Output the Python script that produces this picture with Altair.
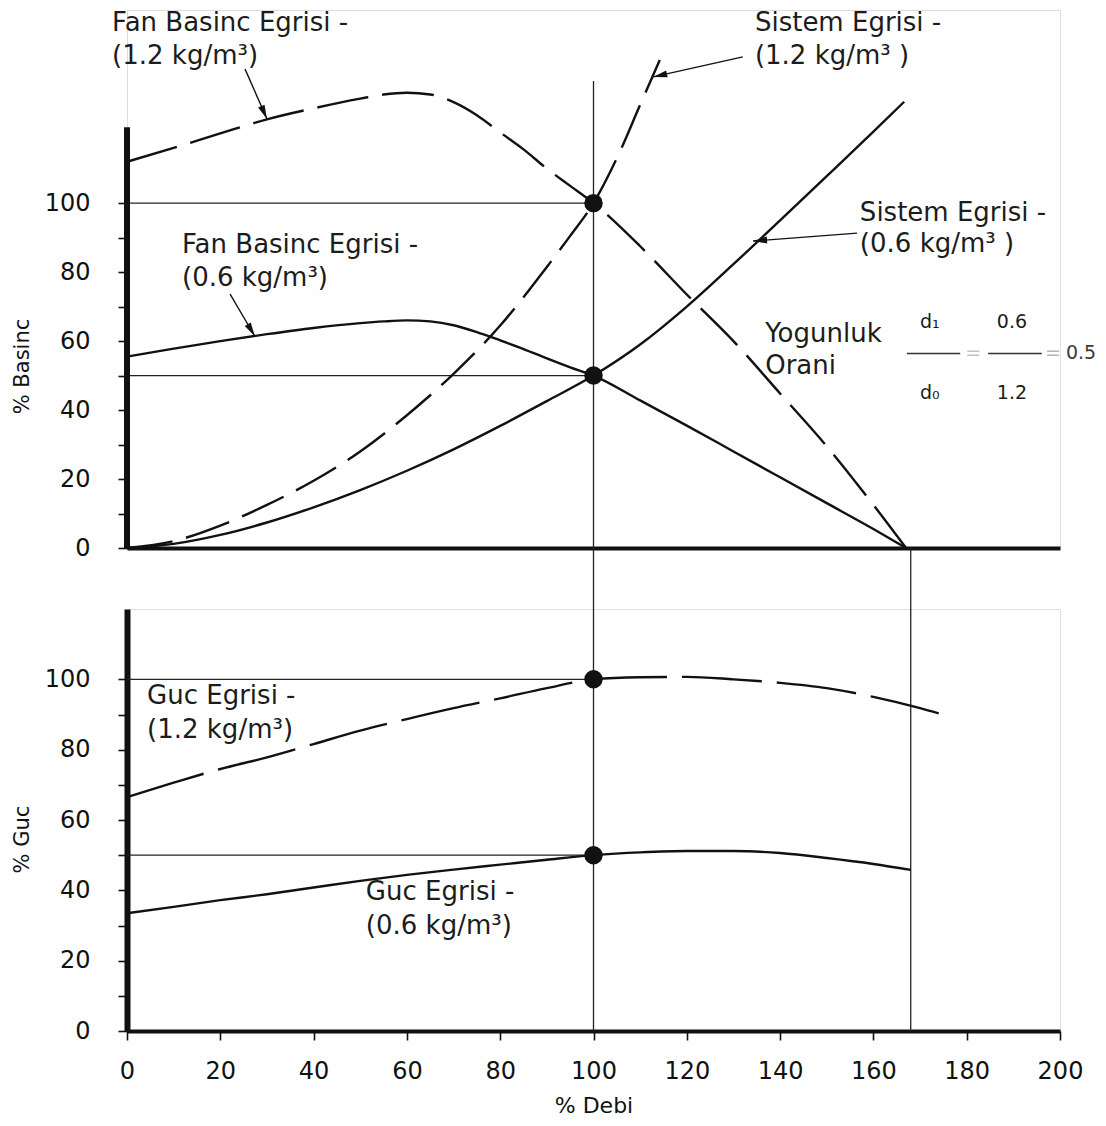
import math
import altair as alt
import pandas as pd

INK = "#111111"
TXT = "#1c1c1c"
FONT = "DejaVu Sans"

# ---------------- data ----------------
# top panel: pressure (% Basinc) vs flow (% Debi)
Q_FAN = [0, 10, 20, 30, 40, 50, 55, 60, 65, 70, 75, 80, 85, 90, 95, 100,
         110, 120, 130, 140, 150, 160, 167]
P_FAN_12 = [112, 116, 120.2, 124.3, 127.5, 130.3, 131.5, 132, 131.5, 129.3, 125.5,
            120.5, 115.6, 110, 105, 100, 87.5, 73.5, 60, 44.8, 29.5, 12.5, 0]
P_FAN_06 = [55.5, 57.8, 60, 62, 63.8, 65.2, 65.7, 66, 65.7, 64.6, 62.6, 60.2,
            57.7, 55, 52.4, 50, 42.8, 35.5, 28, 20.5, 13, 5.5, 0]

Q_SYS_12 = [0, 10, 20, 30, 40, 50, 60, 70, 80, 90, 95, 100, 105, 110, 114.2]
P_SYS_12 = [0, 2, 6.5, 12.5, 19.5, 28, 38.5, 50.5, 64.5, 81.5, 90.5, 100, 113, 128.5, 141.5]

Q_SYS_06 = [0, 10, 20, 30, 40, 50, 60, 70, 80, 90, 100, 110, 120, 130, 140, 150, 160, 166.6]
P_SYS_06 = [0, 1.2, 3.8, 7.4, 11.8, 16.8, 22.4, 28.6, 35.4, 42.6, 50, 59, 70, 82.3, 95,
            107.8, 120.7, 129.4]

# bottom panel: power (% Guc) vs flow
Q_GUC_12 = [0, 10, 20, 30, 40, 50, 60, 70, 80, 90, 100, 110, 120, 130, 140, 150, 160, 170, 174]
P_GUC_12 = [66.5, 70.6, 74.5, 77.8, 81.6, 85.4, 88.7, 91.8, 94.6, 97.5, 100, 100.6,
            100.7, 100, 99, 97.5, 95, 91.8, 90.3]
Q_GUC_06 = [0, 10, 20, 30, 40, 50, 60, 70, 80, 90, 100, 110, 120, 130, 140, 150, 160, 168]
P_GUC_06 = [33.5, 35.3, 37.2, 38.9, 40.8, 42.7, 44.4, 45.9, 47.3, 48.7, 50, 50.8,
            51.2, 51.2, 50.6, 49.2, 47.5, 45.8]

# operating points
OP_Q = [100, 100]
OP_P = [100, 50]

X_TICKS = list(range(0, 201, 20))
Y_TICKS = list(range(0, 101, 10))

# annotation labels (data coordinates)
TOP_LABELS = ["Fan Basinc Egrisi -", "(1.2 kg/m³)", "Sistem Egrisi -", "(1.2 kg/m³ )",
              "Fan Basinc Egrisi -", "(0.6 kg/m³)", "Sistem Egrisi -", "(0.6 kg/m³ )",
              "Yogunluk", "Orani"]
TOP_LAB_X = [-3.2, -3.2, 134.6, 134.6, 11.8, 11.8, 157.1, 157.1, 136.8, 136.8]
TOP_LAB_Y = [152.2, 142.6, 152.2, 142.6, 87.9, 78.3, 97.1, 88.1, 62.0, 52.8]

FRAC_TEXT = ["d₁", "0.6", "d₀", "1.2"]
FRAC_X = [172.1, 189.7, 172.1, 189.7]
FRAC_Y = [65.6, 65.6, 45.0, 45.0]
EQ_TEXT = ["=", "=", "0.5"]
EQ_X = [181.4, 198.5, 204.5]
EQ_Y = [56.4, 56.4, 56.4]
EQ_COL = ["#c4c4c4", "#b8b8b8", "#3a3a3a"]
BAR_X = [167.2, 184.6]
BAR_X2 = [178.6, 196.1]
BAR_Y = [56.4, 56.4]

# arrows: tail -> tip (data coordinates, top panel)
ARR_X1 = [25.3, 132.0, 22.1, 156.5]
ARR_Y1 = [138.9, 142.4, 73.6, 91.3]
ARR_X2 = [30.0, 112.8, 27.4, 134.2]
ARR_Y2 = [124.4, 136.6, 61.4, 89.0]

BOT_LABELS = ["Guc Egrisi -", "(1.2 kg/m³)", "Guc Egrisi -", "(0.6 kg/m³)"]
BOT_LAB_X = [4.3, 4.3, 51.2, 51.2]
BOT_LAB_Y = [95.3, 85.6, 39.5, 29.9]

# ---------------- layout ----------------
W = 933
H_TOP = 538
H_BOT = 422
TOP_MAX = 156
BOT_MAX = 120

xs = alt.Scale(domain=[0, 200], nice=False, zero=False)
ys_top = alt.Scale(domain=[0, TOP_MAX], nice=False, zero=False)
ys_bot = alt.Scale(domain=[0, BOT_MAX], nice=False, zero=False)

LAB_EXPR = "datum.value % 20 === 0 ? datum.label : ''"

ax_top_x = alt.Axis(labels=False, ticks=False, title=None, domainWidth=4,
                    domainColor=INK, grid=False)
ax_top_y = alt.Axis(values=Y_TICKS, labelExpr=LAB_EXPR, domain=False, grid=False,
                    tickSize=9, tickWidth=1.6, tickColor=INK, labelPadding=28,
                    labelFontSize=24, labelColor=INK, title="% Basinc",
                    titleFontSize=21, titleFontWeight="normal", titlePadding=11.5,
                    titleY=356, titleColor=INK)
ax_bot_x = alt.Axis(values=X_TICKS, tickSize=9, tickWidth=1.6, tickColor=INK,
                    domainWidth=4, domainColor=INK, labelPadding=19, labelFontSize=24,
                    labelColor=INK, labelFlush=False, title="% Debi", titleFontSize=22,
                    titleFontWeight="normal", titlePadding=12, titleColor=INK, grid=False)
ax_bot_y = alt.Axis(values=Y_TICKS, labelExpr=LAB_EXPR, domainWidth=6, domainColor=INK,
                    grid=False, tickSize=9, tickWidth=1.6, tickColor=INK, labelPadding=28,
                    labelFontSize=24, labelColor=INK, title="% Guc", titleFontSize=21,
                    titleFontWeight="normal", titlePadding=11.5, titleY=230, titleColor=INK)


def X(field, axis):
    return alt.X(field, type="quantitative", scale=xs, axis=axis)


def Y(field, scale, axis):
    return alt.Y(field, type="quantitative", scale=scale, axis=axis)


def curve(q, p, dash, ys, axx, axy):
    df = pd.DataFrame({"q": q, "p": p})
    kw = dict(color=INK, strokeWidth=2.4, interpolate="monotone")
    if dash:
        kw["strokeDash"] = dash
    return alt.Chart(df).mark_line(**kw).encode(x=X("q", axx), y=Y("p", ys, axy))


def rules(x1, x2, y1, y2, ys, axx, axy, width=1.3, color="#222222"):
    df = pd.DataFrame({"x": x1, "x2": x2, "y": y1, "y2": y2})
    return alt.Chart(df).mark_rule(color=color, strokeWidth=width).encode(
        x=X("x", axx), x2="x2", y=Y("y", ys, axy), y2="y2")


def dots(ys, axx, axy):
    df = pd.DataFrame({"q": OP_Q, "p": OP_P})
    return alt.Chart(df).mark_circle(size=340, color=INK, opacity=1).encode(
        x=X("q", axx), y=Y("p", ys, axy))


def texts(labels, lx, ly, ys, axx, axy, size, align="left", colors=None):
    df = pd.DataFrame({"x": lx, "y": ly, "t": labels,
                       "c": colors if colors else [TXT] * len(labels)})
    return alt.Chart(df).mark_text(align=align, baseline="middle", fontSize=size,
                                   font=FONT).encode(
        x=X("x", axx), y=Y("y", ys, axy), text="t:N",
        color=alt.Color("c:N", scale=None))


# arrowheads: angle in screen space (clockwise from up)
PXX = W / 200
PXY = H_TOP / TOP_MAX
ARR_ANG = []
for a, b, c, d in zip(ARR_X1, ARR_Y1, ARR_X2, ARR_Y2):
    dx = (c - a) * PXX
    dy = -(d - b) * PXY
    ARR_ANG.append(math.degrees(math.atan2(dx, -dy)) % 360)

# ---------------- top panel ----------------
tx, ty = ax_top_x, ax_top_y
top_layers = [
    rules([0, 0, 100], [100, 100, 100], [100, 50, 0], [100, 50, 135.4], ys_top, tx, ty),
    rules([0], [0], [0], [122], ys_top, tx, ty, width=6, color=INK),
    curve(Q_FAN, P_FAN_12, [52, 14], ys_top, tx, ty),
    curve(Q_FAN, P_FAN_06, None, ys_top, tx, ty),
    curve(Q_SYS_12, P_SYS_12, [46, 14], ys_top, tx, ty),
    curve(Q_SYS_06, P_SYS_06, None, ys_top, tx, ty),
    dots(ys_top, tx, ty),
    rules(ARR_X1, ARR_X2, ARR_Y1, ARR_Y2, ys_top, tx, ty, width=1.4, color=INK),
    alt.Chart(pd.DataFrame({"x": ARR_X2, "y": ARR_Y2, "a": ARR_ANG})).mark_point(
        shape="M0,0L-0.5,2L0.5,2Z", size=196, filled=True, color=INK, opacity=1).encode(
        x=X("x", tx), y=Y("y", ys_top, ty), angle=alt.Angle("a:Q", scale=None)),
    texts(TOP_LABELS, TOP_LAB_X, TOP_LAB_Y, ys_top, tx, ty, 26),
    texts(FRAC_TEXT, FRAC_X, FRAC_Y, ys_top, tx, ty, 19, align="center"),
    texts(EQ_TEXT, EQ_X, EQ_Y, ys_top, tx, ty, 19, align="center", colors=EQ_COL),
    rules(BAR_X, BAR_X2, BAR_Y, BAR_Y, ys_top, tx, ty, width=1.3, color="#333333"),
]
top = alt.layer(*top_layers).properties(width=W, height=H_TOP)

# ---------------- bottom panel ----------------
bx, by = ax_bot_x, ax_bot_y
bot_layers = [
    rules([0, 0, 100, 168], [100, 100, 100, 168], [100, 50, 0, 0], [100, 50, 137.3, 137.3],
          ys_bot, bx, by),
    curve(Q_GUC_12, P_GUC_12, [80, 15], ys_bot, bx, by),
    curve(Q_GUC_06, P_GUC_06, None, ys_bot, bx, by),
    dots(ys_bot, bx, by),
    texts(BOT_LABELS, BOT_LAB_X, BOT_LAB_Y, ys_bot, bx, by, 26),
]
bottom = alt.layer(*bot_layers).properties(width=W, height=H_BOT)

chart = alt.vconcat(top, bottom, spacing=61, bounds="flush").properties(
    padding={"left": 3, "top": 1, "right": 0, "bottom": 0}
).configure_view(stroke=None).configure(font=FONT).configure_axis(
    labelFont=FONT, titleFont=FONT)

chart.save("out.html", embed_options={"renderer": "svg", "actions": False})
